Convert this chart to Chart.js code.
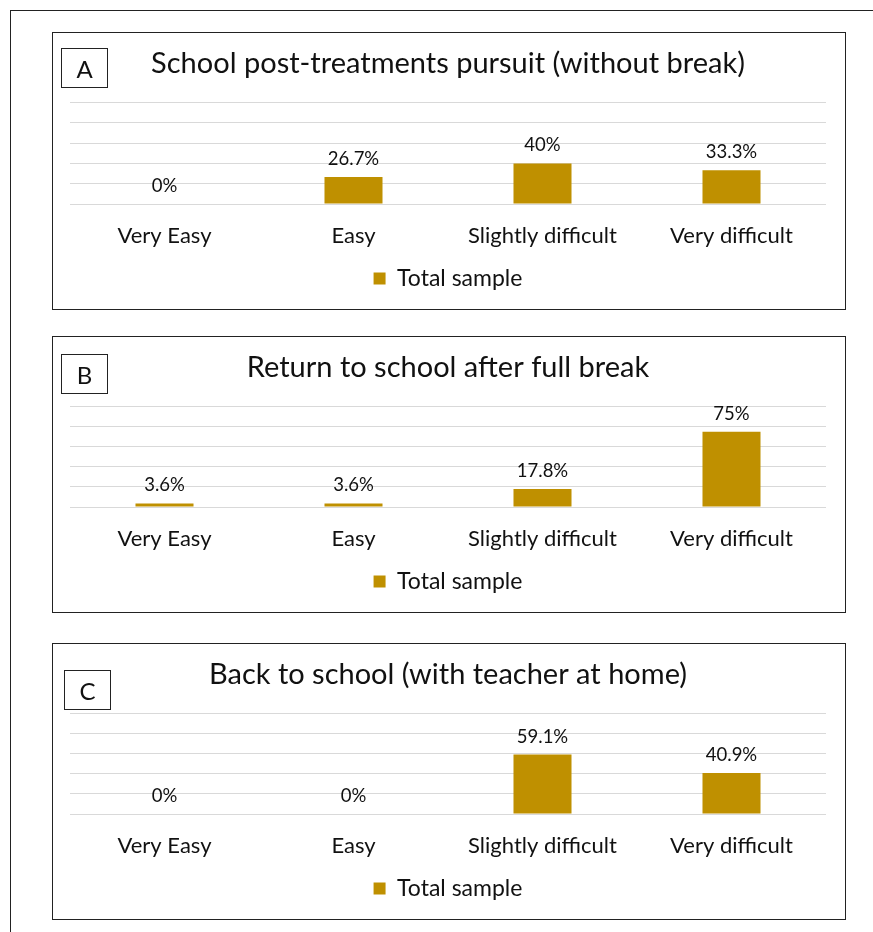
<!DOCTYPE html>
<html>
<head>
<meta charset="utf-8">
<script src="https://cdn.jsdelivr.net/npm/chart.js@4.4.1/dist/chart.umd.min.js"></script>
<style>
  html, body { margin: 0; padding: 0; background: #fff; }
  body { width: 873px; height: 932px; position: relative; overflow: hidden; font-family: Lato, sans-serif; }
  .frame { position: absolute; left: 10px; top: 10px; width: 900px; height: 960px;
           border-left: 1px solid #222; border-top: 1px solid #222; }
  .panel { position: absolute; left: 52px; width: 794px; box-sizing: border-box; border: 1px solid #222; }
  .panel canvas { position: absolute; left: 0; top: 0; }
  .letter { position: absolute; box-sizing: border-box; width: 47px; height: 40px; border: 1px solid #222;
            display: flex; align-items: center; justify-content: center; font-size: 24px; color: #111; }
</style>
</head>
<body>
<div class="frame"></div>

<script>
const categories = ['Very Easy', 'Easy', 'Slightly difficult', 'Very difficult'];
const seriesLabel = 'Total sample';

const titles = [
    'School post-treatments pursuit (without break)',
    'Return to school after full break',
    'Back to school (with teacher at home)'
];
const letters = ['A', 'B', 'C'];

const valuesA = [0, 26.7, 40, 33.3];
const valuesB = [3.6, 3.6, 17.8, 75];
const valuesC = [0, 0, 59.1, 40.9];
const allValues = [valuesA, valuesB, valuesC];

const yTicks = [0, 20, 40, 60, 80, 100];

// panel boxes on the page
const panelTops = [32, 336, 643];
const panelHeights = [278, 277, 277];
const letterPos = [[61, 48], [61, 354], [64, 670]];

const barColor = '#BF9000';
const fontName = 'Lato';

// percentage labels above each bar
const barLabels = {
    id: 'barLabels',
    afterDatasetsDraw(chart) {
        const ctx = chart.ctx;
        const meta = chart.getDatasetMeta(0);
        const data = chart.data.datasets[0].data;
        ctx.save();
        ctx.font = '18.5px ' + fontName;
        ctx.fillStyle = '#111';
        ctx.textAlign = 'center';
        ctx.textBaseline = 'alphabetic';
        meta.data.forEach((bar, i) => {
            ctx.fillText(data[i] + '%', bar.x, bar.y - 12);
        });
        ctx.restore();
    }
};

allValues.forEach((vals, k) => {
    const panel = document.createElement('div');
    panel.className = 'panel';
    panel.style.top = panelTops[k] + 'px';
    panel.style.height = panelHeights[k] + 'px';
    const canvas = document.createElement('canvas');
    panel.appendChild(canvas);
    document.body.appendChild(panel);
    canvas.width = 792;
    canvas.height = panelHeights[k] - 2;
    canvas.style.width = '792px';
    canvas.style.height = (panelHeights[k] - 2) + 'px';

    const letter = document.createElement('div');
    letter.className = 'letter';
    letter.textContent = letters[k];
    letter.style.left = letterPos[k][0] + 'px';
    letter.style.top = letterPos[k][1] + 'px';
    document.body.appendChild(letter);

    new Chart(canvas.getContext('2d'), {
        type: 'bar',
        data: {
            labels: categories,
            datasets: [{
                label: seriesLabel,
                data: vals,
                backgroundColor: barColor,
                borderWidth: 0,
                categoryPercentage: 1,
                barPercentage: 0.307
            }]
        },
        options: {
            responsive: false,
            animation: false,
            layout: { padding: { left: 17, right: 19, top: 0, bottom: 9 } },
            scales: {
                x: {
                    grid: { display: false, drawTicks: false },
                    border: { display: false },
                    ticks: { color: '#111', font: { family: fontName, size: 22 }, padding: 18.3, maxRotation: 0 }
                },
                y: {
                    min: 0,
                    max: 100,
                    afterBuildTicks: (axis) => { axis.ticks = yTicks.map(v => ({ value: v })); },
                    grid: { color: '#d9d9d9', lineWidth: 1, drawTicks: false },
                    border: { display: false },
                    ticks: { display: false }
                }
            },
            plugins: {
                title: {
                    display: true,
                    text: titles[k],
                    color: '#111',
                    font: { family: fontName, size: 29, weight: 'normal' },
                    padding: { top: 13, bottom: 21.7 }
                },
                legend: {
                    position: 'bottom',
                    labels: {
                        color: '#111',
                        font: { family: fontName, size: 23 },
                        boxWidth: 12,
                        boxHeight: 12,
                        padding: 0
                    }
                },
                tooltip: { enabled: false }
            }
        },
        plugins: [barLabels]
    });
});
</script>
</body>
</html>
